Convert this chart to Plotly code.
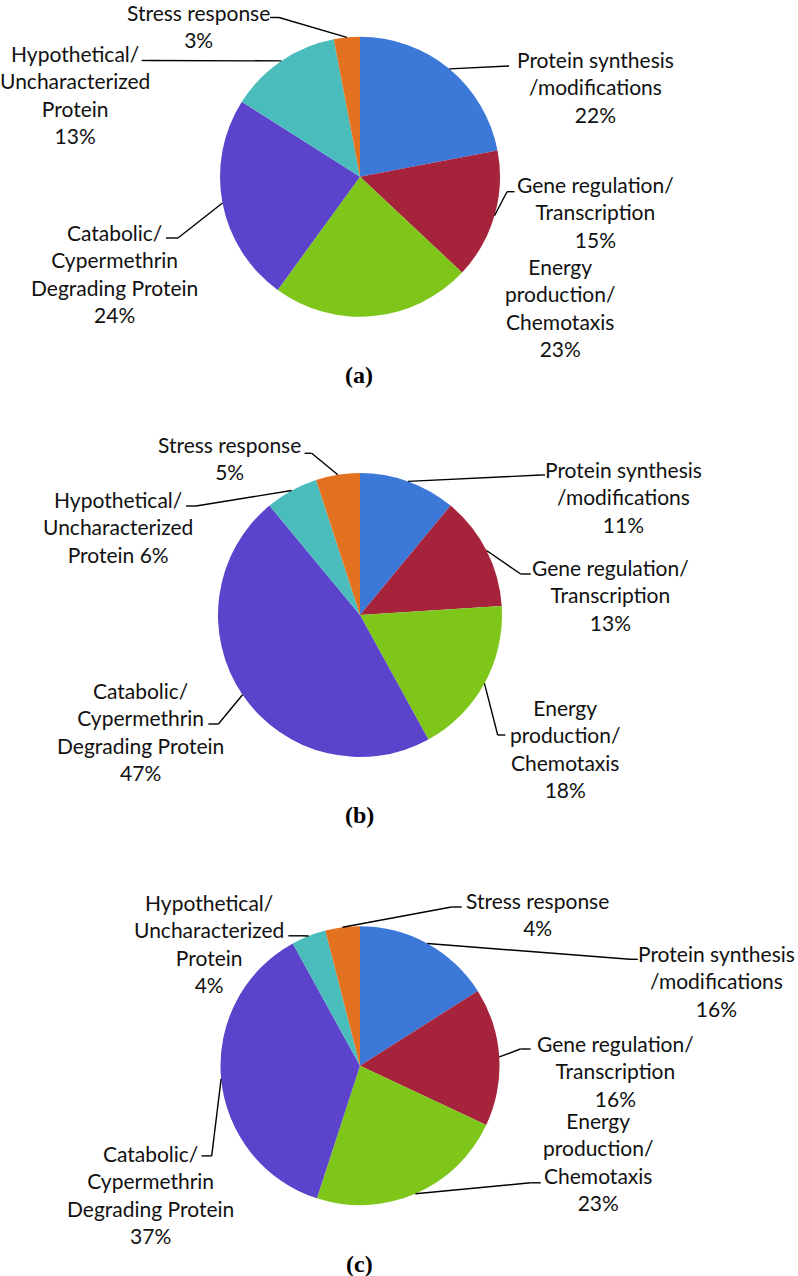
import math
import plotly.graph_objects as go

# ---------------- data ----------------
categories = [
    "Protein synthesis /modifications",
    "Gene regulation/ Transcription",
    "Energy production/ Chemotaxis",
    "Catabolic/ Cypermethrin Degrading Protein",
    "Hypothetical/ Uncharacterized Protein",
    "Stress response",
]
values_a = [22, 15, 23, 24, 13, 3]
values_b = [11, 13, 18, 47, 6, 5]
values_c = [16, 16, 23, 37, 4, 4]
panel_titles = ["(a)", "(b)", "(c)"]

# wrapped category names used in the labels
wrapped = [
    "Protein synthesis<br>/modifications",
    "Gene regulation/<br>Transcription",
    "Energy<br>production/<br>Chemotaxis",
    "Catabolic/<br>Cypermethrin<br>Degrading Protein",
    "Hypothetical/<br>Uncharacterized<br>Protein",
    "Stress response",
]

colors = ["#3C78D8", "#A6233C", "#7EC61A", "#5C43CC", "#4ABCBC", "#E27220"]

# ---------------- layout (pixel geometry) ----------------
W, H = 798, 1276
FONT = "Lato, Carlito, 'Liberation Sans Narrow', sans-serif"
FS = 21

panels = [
    dict(values=values_a, cx=360, cy=176.7, r=140,
         seps=["<br>"] * 6,
         labels=[(595, 87.2), (595, 212.5), (560, 307.5), (114, 273.8), (74.5, 95), (198, 26.3)],
         leaders=[[(509, 66)],
                  [(507, 191.7), (514.5, 191.7)],
                  None,
                  [(178, 238), (166, 238)],
                  [(150, 60.5), (141.6, 60.5)],
                  [(279, 17.5), (270, 17.5)]],
         title_xy=(359, 375)),
    dict(values=values_b, cx=360, cy=615, r=142,
         seps=["<br>", "<br>", "<br>", "<br>", " ", "<br>"],
         labels=[(623.5, 496.5), (610, 595.2), (564.5, 748.7), (140, 731.2), (117.5, 526.8), (229, 457.8)],
         leaders=[[(541, 475), (545, 475)],
                  [(520.7, 574), (530.8, 574)],
                  [(497.7, 735), (505.4, 735)],
                  [(218.4, 724), (208.3, 724)],
                  [(196, 506), (186, 506)],
                  [(311.7, 453.3), (304.6, 453.3)]],
         title_xy=(359, 815)),
    dict(values=values_c, cx=360, cy=1065.7, r=139.5,
         seps=["<br>"] * 6,
         labels=[(716, 980.6), (615, 1071), (597.5, 1161.8), (150.5, 1194.9), (208.5, 943), (537, 914.2)],
         leaders=[[(630, 959.3), (637.8, 959.3)],
                  [(520.4, 1049), (530.6, 1049)],
                  [(530.6, 1182.8), (540.8, 1182.8)],
                  [(211.7, 1155.9), (201.5, 1155.9)],
                  [(301, 935.8), (288.3, 935.8)],
                  [(451.5, 907), (461.7, 907)]],
         title_xy=(359.5, 1264)),
]


def px(x):
    return x / W


def py(y):
    return 1 - y / H


fig = go.Figure()
annotations = []
shapes = []

for p, title in zip(panels, panel_titles):
    cx, cy, r = p["cx"], p["cy"], p["r"]
    vals = p["values"]
    fig.add_trace(go.Pie(
        labels=categories,
        values=vals,
        sort=False,
        direction="clockwise",
        rotation=0,
        textinfo="none",
        hoverinfo="label+percent",
        marker=dict(colors=colors, line=dict(width=0)),
        domain=dict(x=[px(cx - r), px(cx + r)], y=[py(cy + r), py(cy - r)]),
        showlegend=False,
    ))

    total = float(sum(vals))
    cum = 0.0
    for i, v in enumerate(vals):
        mid = (cum + v / 2.0) / total * 2 * math.pi
        cum += v
        ex = cx + r * math.sin(mid)
        ey = cy - r * math.cos(mid)
        lx, ly = p["labels"][i]
        annotations.append(dict(
            x=px(lx), y=py(ly), xref="paper", yref="paper",
            text=wrapped[i] + p["seps"][i] + f"{v}%",
            showarrow=False, xanchor="center", yanchor="middle", align="center",
            font=dict(family=FONT, size=FS, color="#111111"),
        ))
        pts = p["leaders"][i]
        if pts:
            chain = [(ex, ey)] + pts
            for (x0, y0), (x1, y1) in zip(chain[:-1], chain[1:]):
                shapes.append(dict(
                    type="line", xref="paper", yref="paper",
                    x0=px(x0), y0=py(y0), x1=px(x1), y1=py(y1),
                    line=dict(color="black", width=1.4),
                ))

    tx, ty = p["title_xy"]
    annotations.append(dict(
        x=px(tx), y=py(ty), xref="paper", yref="paper",
        text="<b>" + title + "</b>", showarrow=False,
        xanchor="center", yanchor="middle",
        font=dict(family="'Liberation Serif', 'Times New Roman', serif", size=24, color="black"),
    ))

fig.update_layout(
    width=W, height=H,
    margin=dict(l=0, r=0, t=0, b=0),
    paper_bgcolor="white", plot_bgcolor="white",
    annotations=annotations,
    shapes=shapes,
)

fig.write_html(
    "out.html",
    config={"displayModeBar": False},
    post_script="document.body.style.margin='0';document.body.style.padding='0';document.body.style.overflow='hidden';",
)
